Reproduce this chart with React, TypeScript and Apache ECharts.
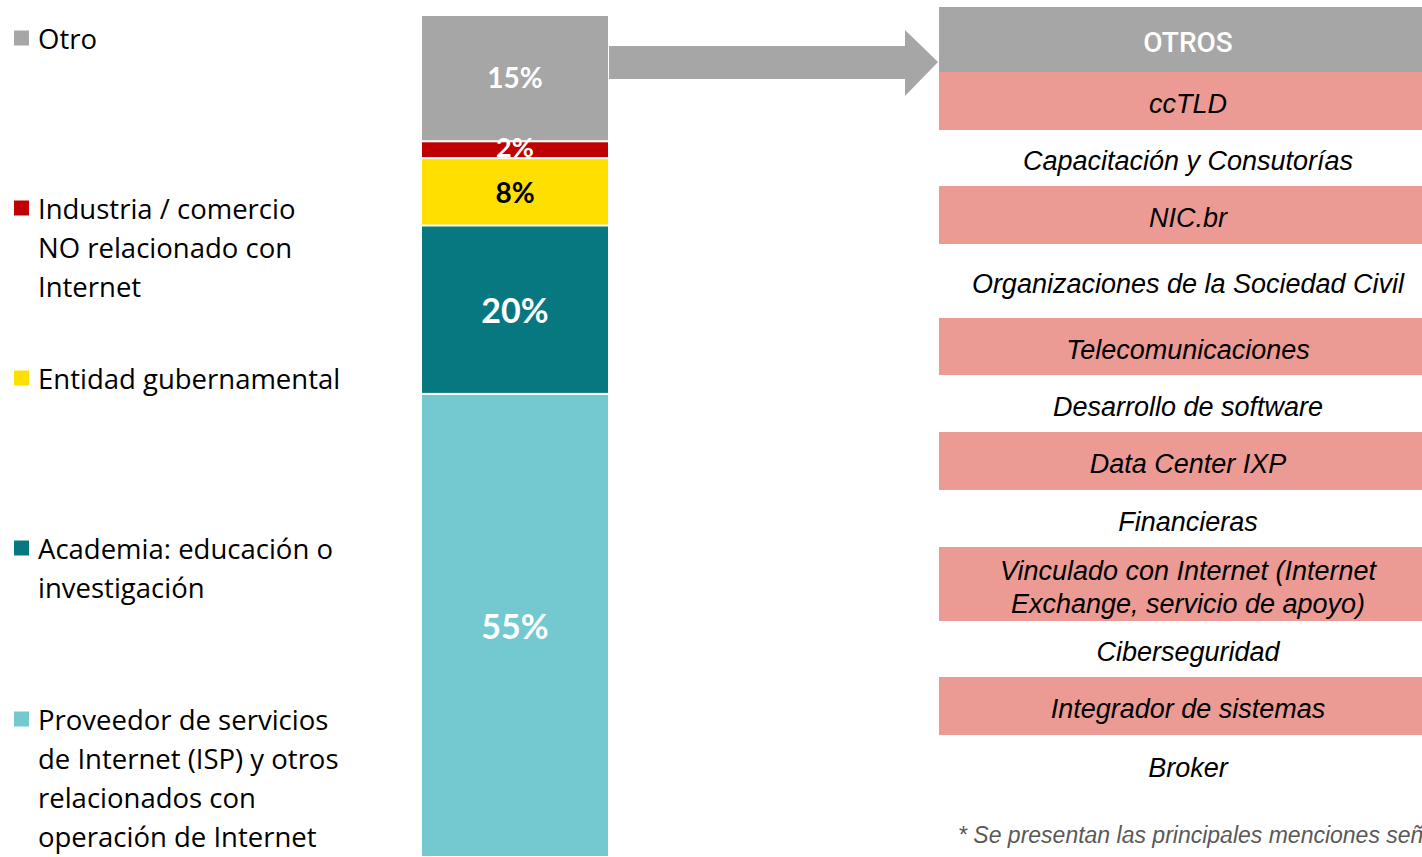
import React, { useEffect, useRef } from "react";
import * as echarts from "echarts";

// ---- Data ----
const categories = ["Total"];
// stacked bottom -> top
const seriesNames = [
  "Proveedor de servicios de Internet (ISP) y otros relacionados con operación de Internet",
  "Academia: educación o investigación",
  "Entidad gubernamental",
  "Industria / comercio NO relacionado con Internet",
  "Otro",
];
const seriesValues = [55, 20, 8, 2, 15];
const seriesColors = ["#73C9CF", "#077880", "#FFDF00", "#C00000", "#A6A6A6"];
const labelColors = ["#FFFFFF", "#FFFFFF", "#000000", "#FFFFFF", "#FFFFFF"];
const labelSizes = [34, 34, 28, 27, 28];
const labelShift = [0, 0, 0, -3, -1];

// legend text as wrapped in the reference
const legendLines = [
  ["Proveedor de servicios", "de Internet (ISP) y otros", "relacionados con", "operación de Internet"],
  ["Academia: educación o", "investigación"],
  ["Entidad gubernamental"],
  ["Industria / comercio", "NO relacionado con", "Internet"],
  ["Otro"],
];
const legendCenters = [719, 548, 378, 208, 38];

// table of "Otros" mentions
const tableTitle = "OTROS";
const tableRows = [
  "ccTLD",
  "Capacitación y Consutorías",
  "NIC.br",
  "Organizaciones de la Sociedad Civil",
  "Telecomunicaciones",
  "Desarrollo de software",
  "Data Center IXP",
  "Financieras",
  "Vinculado con Internet (Internet\nExchange, servicio de apoyo)",
  "Ciberseguridad",
  "Integrador de sistemas",
  "Broker",
];
const rowHeights = [58, 56, 58, 74, 57, 57, 58, 57, 74, 56, 58, 60];
const footnote = "* Se presentan las principales menciones señaladas";

export default function App() {
  const ref = useRef<HTMLDivElement>(null);

  useEffect(() => {
    if (!ref.current) return;
    const chart = echarts.init(ref.current, null, { renderer: "svg" });

    const L = 39;
    const legends = seriesNames.map((name, i) => {
      const n = legendLines[i].length;
      // blank lines before the text keep the icon level with the first line
      const text = new Array(n - 1).fill("").concat(legendLines[i]).join("\n");
      return {
        data: [{ name, icon: "rect" }],
        orient: "vertical",
        left: 14,
        top: legendCenters[i] - ((2 * n - 1) * L) / 2,
        padding: 0,
        itemWidth: 15,
        itemHeight: 15,
        selectedMode: false,
        itemStyle: { borderWidth: 0 },
        formatter: () => text,
        textStyle: {
          fontFamily: "'Open Sans', Lato, sans-serif",
          fontSize: 27.5,
          color: "#000000",
          lineHeight: L,
          padding: [0, 0, 0, 4],
          backgroundColor: "rgba(255,255,255,0)",
        },
      };
    });

    const tableLeft = 939;
    const tableWidth = 500;
    const textCenter = 1188;
    const graphics: any[] = [];
    // arrow
    graphics.push({
      type: "polygon",
      shape: {
        points: [
          [609, 46],
          [905, 46],
          [905, 30],
          [938, 62],
          [905, 96],
          [905, 79],
          [609, 79],
        ],
      },
      style: { fill: "#A6A6A6" },
    });
    // header
    graphics.push({
      type: "rect",
      shape: { x: tableLeft, y: 7, width: tableWidth, height: 65 },
      style: { fill: "#A6A6A6" },
    });
    graphics.push({
      type: "text",
      x: textCenter,
      y: 42,
      style: {
        text: tableTitle,
        fill: "#FFFFFF",
        fontSize: 28,
        fontWeight: 500,
        fontFamily: "Roboto, 'Liberation Sans', Arial, sans-serif",
        align: "center",
        verticalAlign: "middle",
      },
    });
    let y = 72;
    tableRows.forEach((label, i) => {
      const h = rowHeights[i];
      if (i % 2 === 0) {
        graphics.push({
          type: "rect",
          shape: { x: tableLeft, y, width: tableWidth, height: h },
          style: { fill: "#EC9A94" },
        });
      }
      graphics.push({
        type: "text",
        x: textCenter,
        y: y + h / 2 + 3,
        style: {
          text: label,
          fill: "#000000",
          fontSize: 27,
          fontStyle: "italic",
          fontFamily: "'Liberation Sans', Arial, sans-serif",
          align: "center",
          verticalAlign: "middle",
          lineHeight: 33,
        },
      });
      y += h;
    });
    graphics.push({
      type: "text",
      x: 958,
      y: 835,
      style: {
        text: footnote,
        fill: "#595959",
        fontSize: 23,
        fontStyle: "italic",
        fontFamily: "'Liberation Sans', Arial, sans-serif",
        align: "left",
        verticalAlign: "middle",
      },
    });

    chart.setOption({
      animation: false,
      legend: legends,
      grid: { left: 421, top: 15, width: 188, height: 850 },
      xAxis: { type: "category", data: categories, show: false },
      yAxis: { type: "value", min: 0, max: 100, show: false },
      series: seriesNames.map((name, i) => ({
        name,
        type: "bar",
        stack: "total",
        barWidth: "100%",
        data: [seriesValues[i]],
        itemStyle: { color: seriesColors[i], borderColor: "#FFFFFF", borderWidth: 1 },
        label: {
          show: true,
          position: "inside",
          offset: [0, labelShift[i]],
          formatter: "{c}%",
          color: labelColors[i],
          fontSize: labelSizes[i],
          fontWeight: "bold",
          fontFamily: "Lato, 'Open Sans', sans-serif",
          textBorderWidth: 0,
        },
      })),
      graphic: graphics,
    });

    return () => chart.dispose();
  }, []);

  return (
    <div
      ref={ref}
      style={{ position: "absolute", left: 0, top: 0, width: 1422, height: 857 }}
    />
  );
}
